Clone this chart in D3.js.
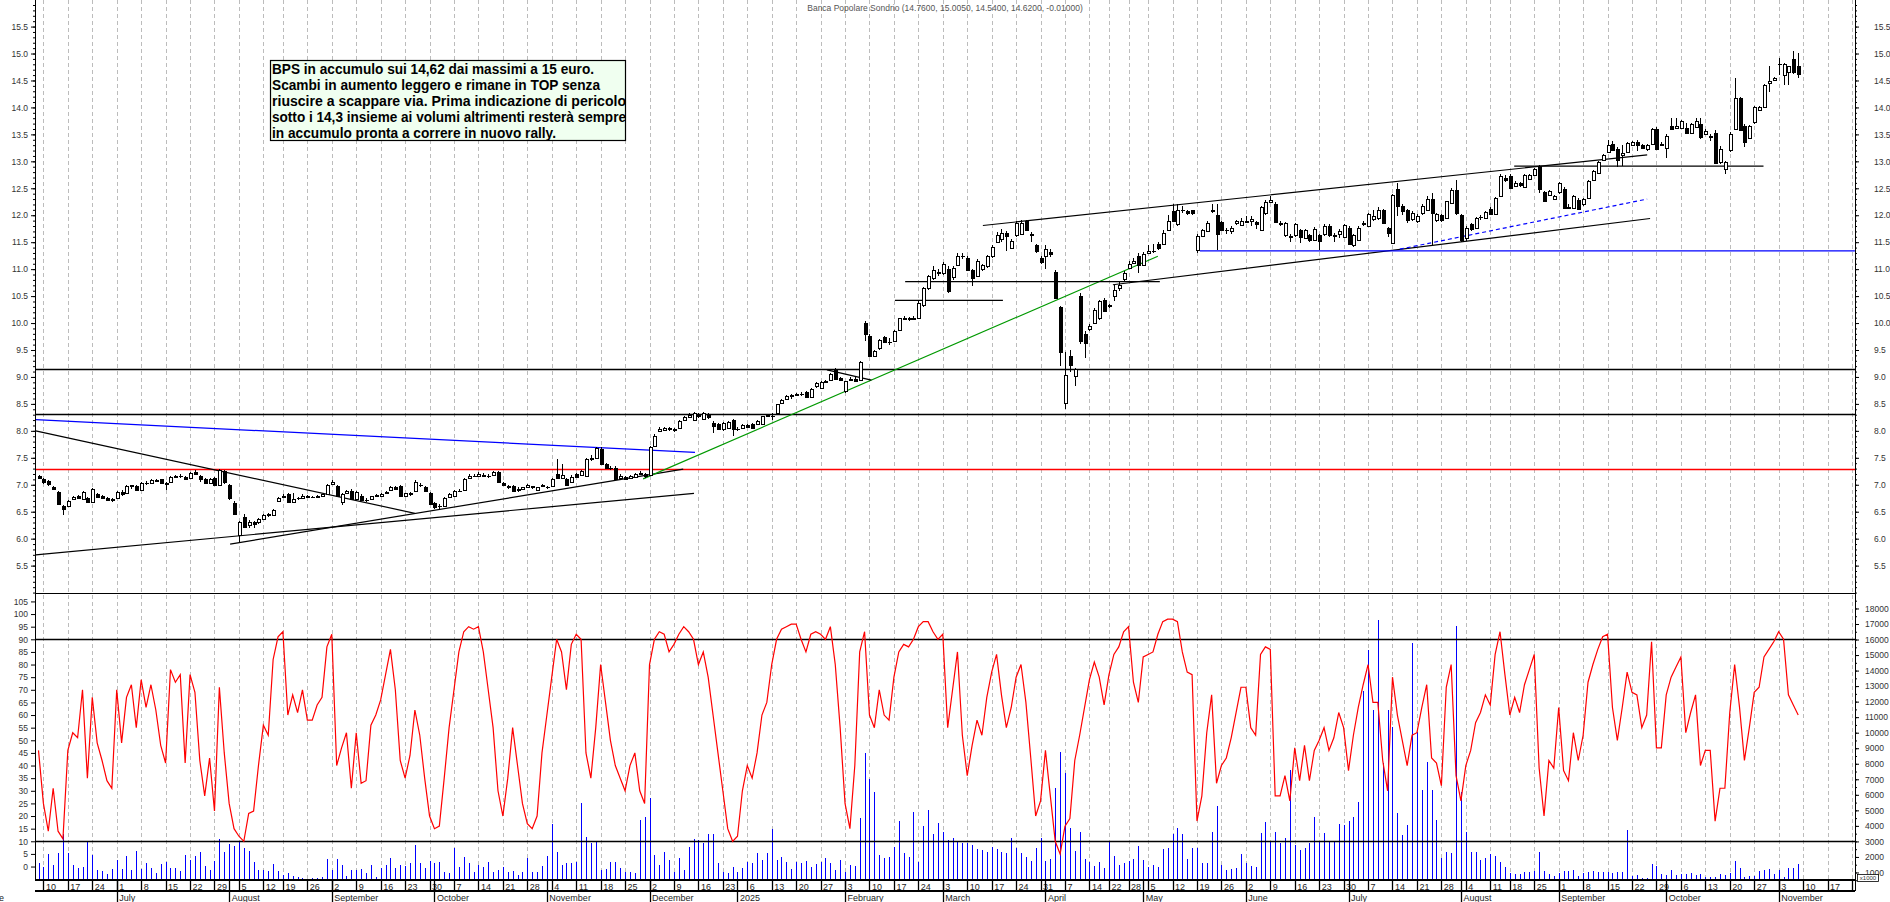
<!DOCTYPE html>
<html><head><meta charset="utf-8">
<script src="https://cdn.jsdelivr.net/npm/d3@7/dist/d3.min.js"></script>
<style>
html,body{margin:0;padding:0;background:#fff;}
svg{display:block;font-family:"Liberation Sans",Arial,Helvetica,sans-serif;}
</style></head><body>
<svg id="chart" width="1890" height="902"></svg>
<script>
// ---------------- DATA ----------------
const title = "Banca Popolare Sondrio (14.7600, 15.0050, 14.5400, 14.6200, -0.01000)";
const noteLines = [
 "BPS in accumulo sui 14,62 dai massimi a 15 euro.",
 "Scambi in aumento leggero e rimane in TOP senza",
 "riuscire a scappare via. Prima indicazione di pericolo",
 "sotto i 14,3 insieme ai volumi altrimenti resterà sempre",
 "in accumulo pronta a correre in nuovo rally."
];
const holidays = ["2024-08-15","2024-12-24","2024-12-25","2024-12-26","2024-12-31","2025-01-01","2025-04-18","2025-04-21","2025-05-01","2025-08-15"];
const firstDay = "2024-06-07", lastAxisDay = "2025-11-28";
const noWeekLabel = ["2024-12-30"];
const monthNames = ["January","February","March","April","May","June","July","August","September","October","November","December"];

const opens = [7.17,7.10,7.07,6.95,6.86,6.60,6.61,6.74,6.79,6.74,6.76,6.68,6.83,6.79,6.76,6.72,6.75,6.86,6.84,6.97,6.98,6.90,7.04,7.03,7.08,7.10,7.04,7.05,7.15,7.16,7.15,7.12,7.24,7.16,7.10,7.04,7.12,7.00,7.26,7.00,6.66,6.06,6.40,6.25,6.30,6.30,6.36,6.44,6.43,6.70,6.77,6.83,6.68,6.75,6.76,6.79,6.78,6.78,6.80,6.83,7.02,6.98,6.68,6.84,6.89,6.74,6.80,6.72,6.74,6.80,6.80,6.84,6.90,6.96,6.98,6.80,6.84,6.88,7.00,6.95,6.85,6.67,6.60,6.60,6.78,6.80,6.88,6.90,7.12,7.17,7.17,7.19,7.16,7.18,7.23,7.04,6.98,6.98,6.90,6.92,6.96,6.97,6.90,6.98,6.96,6.98,7.20,7.12,7.10,7.05,7.20,7.18,7.17,7.48,7.50,7.66,7.38,7.32,7.32,7.12,7.15,7.12,7.15,7.20,7.20,7.18,7.72,8.00,8.02,8.05,8.02,8.06,8.20,8.26,8.21,8.30,8.22,8.30,8.15,8.12,8.03,8.06,8.20,8.04,8.06,8.10,8.12,8.12,8.12,8.27,8.28,8.33,8.52,8.60,8.64,8.67,8.68,8.72,8.63,8.83,8.80,8.90,8.95,9.14,8.98,8.74,8.95,8.97,8.95,10.00,9.76,9.39,9.54,9.74,9.65,9.66,9.87,10.08,10.09,10.07,10.10,10.33,10.65,10.84,10.95,10.92,11.00,10.85,11.08,11.24,11.21,10.99,10.87,11.00,11.05,11.24,11.50,11.56,11.67,11.39,11.64,11.66,11.89,11.66,11.44,11.21,11.24,11.32,10.95,10.30,8.52,9.38,9.01,10.51,9.80,9.89,10.00,10.09,10.43,10.33,10.50,10.65,10.81,11.02,11.12,11.24,11.08,11.30,11.33,11.46,11.46,11.72,12.07,11.83,12.10,12.07,12.09,11.36,11.62,11.70,12.10,12.01,11.87,11.73,11.70,11.85,11.81,11.88,11.90,11.88,11.72,12.04,12.25,12.21,11.85,11.64,11.62,11.64,11.72,11.58,11.64,11.54,11.64,11.66,11.80,11.64,11.66,11.60,11.76,11.44,11.54,11.83,11.80,11.93,11.95,12.10,11.76,11.49,12.48,12.17,12.10,11.93,11.89,12.04,12.10,12.30,11.91,12.00,11.95,12.23,12.46,12.00,11.58,11.83,11.77,11.96,11.95,12.12,12.02,12.35,12.70,12.73,12.55,12.60,12.53,12.67,12.74,12.91,12.43,12.37,12.30,12.43,12.49,12.16,12.14,12.29,12.20,12.32,12.65,12.79,13.03,13.17,13.32,13.23,13.12,13.17,13.31,13.35,13.31,13.23,13.33,13.60,13.30,13.25,13.66,13.62,13.62,13.62,13.52,13.64,13.70,13.50,13.47,13.53,12.98,12.86,13.21,13.60,14.18,13.65,13.44,13.73,13.95,14.01,14.45,14.51,14.80,14.61,14.65,14.89,14.76];
const highs = [7.19,7.12,7.08,6.97,6.88,6.62,6.72,6.80,6.81,6.88,6.78,6.94,6.85,6.81,6.78,6.75,6.88,6.90,7.00,7.00,7.00,7.06,7.07,7.10,7.10,7.11,7.06,7.16,7.19,7.20,7.17,7.24,7.28,7.18,7.12,7.12,7.14,7.30,7.28,7.02,6.70,6.32,6.46,6.35,6.33,6.38,6.45,6.48,6.55,6.78,6.82,6.85,6.84,6.78,6.82,6.81,6.80,6.81,6.83,7.02,7.08,7.00,6.84,6.90,6.92,6.88,6.82,6.76,6.80,6.83,6.84,6.88,6.97,6.98,7.00,6.85,6.86,7.08,7.04,6.97,6.87,6.68,6.64,6.78,6.84,6.90,6.92,7.12,7.20,7.20,7.23,7.21,7.20,7.25,7.25,7.06,7.00,7.00,6.95,6.96,7.01,6.98,6.96,7.02,6.98,7.12,7.48,7.38,7.12,7.18,7.22,7.28,7.50,7.55,7.70,7.70,7.40,7.34,7.34,7.20,7.17,7.18,7.22,7.25,7.22,7.72,7.94,8.08,8.08,8.07,8.06,8.20,8.28,8.33,8.35,8.33,8.35,8.33,8.18,8.14,8.17,8.18,8.22,8.07,8.12,8.13,8.14,8.20,8.28,8.32,8.33,8.50,8.60,8.66,8.68,8.70,8.72,8.74,8.79,8.90,8.92,8.94,9.07,9.16,9.00,8.93,9.00,9.00,9.30,10.04,9.80,9.50,9.70,9.76,9.72,9.87,10.10,10.14,10.12,10.14,10.40,10.67,10.90,11.05,11.00,11.14,11.05,11.06,11.30,11.30,11.24,11.00,11.18,11.10,11.26,11.45,11.68,11.75,11.70,11.55,11.90,11.92,11.92,11.68,11.46,11.24,11.45,11.38,10.98,10.32,9.46,9.50,9.17,10.55,9.85,9.98,10.28,10.42,10.46,10.36,10.70,10.78,10.96,11.15,11.20,11.30,11.32,11.45,11.46,11.50,11.72,12.00,12.20,12.20,12.18,12.10,12.10,11.65,11.75,11.90,12.20,12.20,11.90,11.76,11.80,11.92,11.95,11.98,11.98,11.90,12.18,12.28,12.35,12.24,11.90,11.88,11.66,11.86,11.75,11.75,11.66,11.78,11.66,11.84,11.84,11.67,11.74,11.84,11.80,11.66,11.80,11.90,12.05,12.10,12.15,12.12,11.78,12.40,12.59,12.20,12.12,12.08,12.02,12.20,12.35,12.42,12.05,12.02,12.27,12.50,12.65,12.02,11.80,11.86,11.97,12.00,12.08,12.15,12.34,12.76,12.74,12.76,12.63,12.62,12.76,12.76,12.88,12.94,12.45,12.47,12.37,12.62,12.52,12.20,12.37,12.32,12.32,12.65,12.84,13.00,13.14,13.40,13.38,13.26,13.30,13.36,13.38,13.40,13.33,13.32,13.62,13.63,13.36,13.50,13.81,13.80,13.76,13.72,13.72,13.80,13.80,13.60,13.50,13.58,13.28,13.00,13.55,14.55,14.20,13.70,13.67,14.03,14.03,14.43,14.77,14.56,14.92,14.82,14.77,15.05,15.01];
const lows = [7.10,7.02,6.98,6.90,6.62,6.43,6.58,6.72,6.73,6.72,6.66,6.66,6.76,6.74,6.70,6.68,6.74,6.80,6.83,6.93,6.88,6.88,7.00,7.01,7.05,7.03,6.90,7.03,7.12,7.13,7.08,7.10,7.18,7.06,7.02,7.02,6.97,6.98,7.02,6.72,6.44,5.93,6.20,6.20,6.20,6.28,6.34,6.40,6.42,6.68,6.75,6.66,6.66,6.72,6.74,6.75,6.76,6.76,6.78,6.82,7.00,6.78,6.62,6.82,6.72,6.72,6.70,6.68,6.72,6.78,6.78,6.82,6.88,6.90,6.78,6.78,6.80,6.86,6.96,6.86,6.63,6.55,6.54,6.58,6.76,6.78,6.86,6.88,7.10,7.14,7.15,7.14,7.13,7.16,7.03,6.98,6.92,6.86,6.87,6.90,6.94,6.93,6.88,6.96,6.92,6.96,7.10,7.10,6.98,7.04,7.12,7.16,7.15,7.45,7.48,7.36,7.30,7.28,7.08,7.10,7.08,7.10,7.14,7.18,7.12,7.16,7.70,7.98,8.00,8.00,7.98,8.04,8.18,8.24,8.19,8.24,8.20,8.22,7.96,8.02,8.00,8.04,7.90,8.00,8.04,8.05,8.04,8.10,8.10,8.25,8.20,8.30,8.50,8.58,8.60,8.64,8.65,8.62,8.61,8.80,8.78,8.88,8.93,8.95,8.93,8.71,8.93,8.90,8.93,9.66,9.37,9.37,9.50,9.63,9.60,9.64,9.85,10.05,10.03,10.05,10.08,10.30,10.62,10.80,10.88,10.90,10.55,10.80,11.05,11.18,10.96,10.68,10.85,10.97,11.03,11.20,11.48,11.50,11.33,11.37,11.60,11.64,11.70,11.50,11.30,11.10,11.00,11.22,10.44,9.20,8.41,9.10,8.83,9.62,9.35,9.85,9.98,10.05,10.20,10.28,10.40,10.60,10.78,11.00,11.10,10.92,11.05,11.28,11.30,11.35,11.44,11.70,11.87,11.80,12.05,12.00,12.00,11.30,11.60,11.68,12.05,11.36,11.70,11.65,11.66,11.82,11.80,11.85,11.80,11.75,11.70,12.00,12.22,11.85,11.80,11.60,11.50,11.60,11.48,11.56,11.50,11.52,11.36,11.62,11.60,11.50,11.58,11.58,11.44,11.42,11.52,11.80,11.78,11.90,11.92,11.84,11.60,11.46,11.99,12.00,11.85,11.90,11.86,12.00,12.08,11.45,11.88,11.88,11.93,12.20,12.00,11.50,11.52,11.70,11.75,11.92,11.93,12.00,12.00,12.33,12.62,12.48,12.52,12.52,12.50,12.65,12.72,12.42,12.24,12.35,12.28,12.40,12.12,12.12,12.12,12.09,12.18,12.30,12.63,12.77,13.00,13.15,13.19,12.90,12.92,13.15,13.30,13.20,13.22,13.20,13.30,13.21,13.28,13.06,13.58,13.60,13.60,13.50,13.50,13.62,13.42,13.48,13.38,12.95,12.95,12.77,13.18,13.58,13.58,13.27,13.42,13.70,13.93,13.99,14.28,14.50,14.61,14.42,14.42,14.62,14.54];
const closes = [7.12,7.05,7.01,6.92,6.64,6.55,6.70,6.78,6.75,6.86,6.68,6.92,6.78,6.76,6.71,6.73,6.86,6.82,6.98,6.99,6.90,7.04,7.03,7.08,7.07,7.04,7.02,7.14,7.16,7.17,7.10,7.22,7.20,7.10,7.04,7.10,6.99,7.28,7.05,6.75,6.46,6.30,6.22,6.30,6.28,6.36,6.43,6.45,6.54,6.76,6.80,6.68,6.74,6.76,6.80,6.78,6.78,6.80,6.82,7.00,7.05,6.80,6.82,6.88,6.74,6.86,6.72,6.72,6.79,6.81,6.82,6.87,6.95,6.93,6.80,6.84,6.83,7.05,6.99,6.88,6.65,6.58,6.60,6.76,6.82,6.88,6.89,7.10,7.17,7.16,7.20,7.17,7.17,7.23,7.05,7.00,6.95,6.88,6.92,6.95,6.99,6.95,6.95,7.00,6.95,7.10,7.12,7.18,7.00,7.15,7.14,7.25,7.48,7.50,7.69,7.38,7.32,7.31,7.10,7.17,7.10,7.16,7.20,7.22,7.16,7.70,7.90,8.03,8.05,8.03,8.04,8.18,8.25,8.30,8.33,8.27,8.33,8.25,8.09,8.04,8.15,8.16,8.03,8.04,8.10,8.08,8.06,8.18,8.27,8.29,8.27,8.49,8.58,8.64,8.67,8.69,8.69,8.63,8.78,8.89,8.90,8.92,9.06,8.97,8.95,8.92,8.97,8.92,9.28,9.79,9.39,9.48,9.68,9.65,9.65,9.85,10.09,10.09,10.07,10.10,10.38,10.65,10.87,10.98,10.92,11.09,10.59,11.03,11.25,11.24,10.99,10.84,11.16,11.08,11.24,11.42,11.64,11.67,11.61,11.52,11.86,11.86,11.73,11.63,11.33,11.13,11.37,11.29,10.47,9.46,9.04,9.23,9.14,9.66,9.63,9.95,10.25,10.40,10.22,10.31,10.62,10.71,10.93,11.10,11.15,11.08,11.29,11.33,11.34,11.39,11.67,11.89,11.89,12.10,12.10,12.05,12.04,11.62,11.72,11.86,12.08,11.66,11.73,11.72,11.76,11.89,11.90,11.90,11.93,11.83,12.15,12.24,12.29,11.87,11.83,11.86,11.60,11.83,11.60,11.72,11.54,11.75,11.52,11.80,11.64,11.62,11.70,11.81,11.46,11.64,11.76,11.86,12.02,11.99,12.10,11.86,11.67,12.37,12.17,12.07,11.92,12.04,11.99,12.17,12.30,12.04,12.02,11.92,12.26,12.47,12.04,11.54,11.77,11.75,11.95,11.97,12.06,12.02,12.32,12.73,12.65,12.51,12.59,12.57,12.74,12.74,12.86,12.48,12.26,12.45,12.35,12.59,12.14,12.14,12.35,12.11,12.30,12.63,12.82,12.98,13.12,13.31,13.21,13.03,13.15,13.34,13.35,13.30,13.25,13.30,13.60,13.23,13.32,13.47,13.60,13.65,13.74,13.52,13.70,13.74,13.45,13.56,13.45,12.97,13.23,12.98,13.50,14.18,13.59,13.35,13.65,14.01,14.01,14.41,14.49,14.55,14.81,14.80,14.77,14.65,14.62];
const stoch = [46,25,14,31,14,11,46,53,51,70,35,67,49,42,34,31,70,49,67,72,55,74,63,72,62,48,41,78,73,76,41,76,69,42,28,43,22,71,45,25,15,12,10,21,22,40,56,52,82,91,93,60,68,61,70,58,58,64,67,87,92,40,47,53,31,53,33,34,56,60,66,76,86,70,42,
 35,44,62,52,35,20,15,16,35,55,70,85,93,95,94,95,85,70,55,30,20,35,55,40,25,17,15,20,45,60,75,90,85,70,88,92,90,45,35,55,80,65,50,40,35,30,40,45,30,25,80,90,93,92,85,88,92,95,93,90,80,85,75,60,45,30,15,10,12,30,40,35,45,60,65,80,90,94,95,96,96,90,85,92,93,92,90,95,80,55,25,15,40,85,93,60,55,70,60,58,75,85,88,87,90,95,97,97,93,90,92,55,70,85,
 52,36,48,58,52,67,77,84,68,55,63,75,80,65,43,20,26,46,28,10,5,16,19,42,52,63,74,81,75,64,76,84,87,93,95,73,65,83,84,85,92,97,98,98,97,85,77,76,18,28,53,68,33,40,43,51,61,71,71,55,52,84,87,86,28,28,36,26,47,34,48,34,46,50,55,46,51,61,55,38,52,63,72,80,65,65,42,30,75,60,50,40,52,53,63,72,43,41,32,71,80,36,26,40,46,57,61,68,64,84,93,76,60,67,61,72,78,84,39,20,42,39,63,38,34,53,42,52,73,80,86,91,92,63,50,63,77,69,68,55,60,89,47,47,68,75,79,83,53,61,68,40,46,46,18,31,31,61,80,63,42,55,69,71,83,86,89,93,90,68,64,60];
const volume = [1631,1374,2190,1481,2232,3477,2232,1481,1309,1374,2983,2125,1159,1095,902,1202,1803,1223,2061,1159,2383,1223,1588,1288,988,1545,1696,1288,1288,1095,2125,1825,2061,2318,1416,1159,1760,3177,2340,2834,2705,2983,2597,2383,1696,1159,1159,1095,1524,1095,838,945,795,730,623,559,666,623,688,1889,1159,1846,1481,795,1159,1159,1202,945,1481,688,1266,1481,1910,1266,1500,1400,
 1589,2769,1589,1266,1739,1631,1696,1052,945,2554,1374,2018,1589,1052,1481,1331,1696,1052,1159,1374,1052,1116,837,1052,1910,1052,1052,1417,2060,4145,2340,1481,1589,1589,1696,5446,3305,2876,3048,1159,1202,1696,1696,1266,1052,1052,988,4400,4600,5770,2125,1481,2340,1803,1052,1910,1159,2662,3134,3091,2876,3477,3477,1589,1052,945,1331,1052,1266,1696,1589,2232,1803,2232,3800,1803,2018,1696,1202,1696,1589,1760,1374,1546,1696,1910,1589,1159,1803,1052,1481,1417,4500,8700,7000,6200,2125,1910,2018,2662,4300,2232,1975,4900,1696,4000,5000,3500,4200,3600,3100,3200,3000,2900,
 2917,2768,2510,2446,2339,2661,2510,2339,2232,3198,2553,2275,2017,1738,2553,3198,1738,1867,6461,8779,7384,3841,2382,3627,1867,1695,1438,1695,1309,2982,2082,1481,1588,1738,1867,2725,1803,1374,1481,1374,2510,2596,3455,3841,3455,1867,2553,2553,1588,1588,3584,5280,1481,1159,1223,1266,2167,1631,1438,1374,3562,4271,2939,3584,2875,3240,7577,2768,2446,2596,2875,4550,2982,3562,2982,2982,4099,4056,4314,4550,5516,12707,15325,11462,17257,8049,11462,10389,4808,3412,4056,15754,10067,6310,8135,6310,4378,1910,2339,2275,16871,6203,3627,2339,2296,1781,1910,2167,2060,1695,1374,944,901,901,1051,1008,1094,2339,1094,880,773,987,1094,1094,1159,773,966,1051,1116,1051,1051,1008,944,1008,1051,3734,773,816,644,622,1545,1438,880,816,1159,816,880,901,987,816,923,709,709,709,880,837,944,1760,1309,709,752,752,1094,1159,1202,923,1159,700,1309,1266,1567];

const priceMajor = d3.range(5.5, 15.51, 0.5);
const priceMinor = d3.range(5.0, 15.95, 0.1);
const stochTicks = d3.range(0, 106, 5);
const volMajor = d3.range(1000, 18001, 1000);
const volMinor = d3.range(500, 18501, 500);

// levels / trendlines in data space: [dayIndexFrom, priceFrom, dayIndexTo, priceTo]
const levelsFull = [{p:9.14,c:"#000"},{p:8.31,c:"#000"},{p:7.29,c:"#ff0000"}];
const trendLines = [
 {a:[-0.58,8.00,77.0,6.47], c:"#000"},
 {a:[-0.58,5.70,134.1,6.84], c:"#000"},
 {a:[39.2,5.90,131.9,7.29], c:"#000"},
 {a:[-0.58,8.21,134.3,7.60], c:"#0000ff"},
 {a:[123.7,7.11,229.0,11.24], c:"#009900"},
 {a:[161.3,9.13,170.4,8.94], c:"#000"},
 {a:[175.2,10.42,197.3,10.42], c:"#000"},
 {a:[177.3,10.77,229.4,10.77], c:"#000"},
 {a:[193.2,11.81,329.1,13.12], c:"#000"},
 {a:[219.8,10.71,329.7,11.94], c:"#000"},
 {a:[237.6,11.34,371.6,11.34], c:"#0000ff"},
 {a:[278.5,11.37,329.1,12.30], c:"#0000ff", dash:"4,3"},
 {a:[301.9,12.91,352.9,12.91], c:"#000"}
];

// ---------------- LAYOUT ----------------
const L = 35, R = 1855, TOP_B = 593.5, LOW_T = 594, LOW_B = 880, ROW = 891, BOT = 902;

function tradingDays(a, b) {
  const out = []; const d = new Date(a + "T12:00:00Z"); const e = new Date(b + "T12:00:00Z");
  while (d <= e) {
    const wd = d.getUTCDay(), s = d.toISOString().slice(0, 10);
    if (wd !== 0 && wd !== 6 && !holidays.includes(s)) out.push(s);
    d.setUTCDate(d.getUTCDate() + 1);
  }
  return out;
}
const days = tradingDays(firstDay, lastAxisDay);
const parse = s => new Date(s + "T12:00:00Z");

const x = d3.scaleLinear().domain([-0.718, 371.62]).range([L, R]);
const yP = d3.scaleLinear().domain([4.992, 15.993]).range([593, 0]);
const yS = d3.scaleLinear().domain([-5.33, 107.94]).range([LOW_B, LOW_T]);
const yV = d3.scaleLinear().domain([515, 18931]).range([LOW_B, LOW_T]);

const svg = d3.select("#chart");
const defs = svg.append("defs");
defs.append("clipPath").attr("id","clipTop").append("rect").attr("x",L).attr("y",0).attr("width",R-L).attr("height",TOP_B);
defs.append("clipPath").attr("id","clipLow").append("rect").attr("x",L).attr("y",LOW_T).attr("width",R-L).attr("height",LOW_B-LOW_T);

// week / month starts
const weekStarts = [], monthStarts = [];
days.forEach((s, k) => {
  if (k === 0) return;
  const d = parse(s), p = parse(days[k-1]);
  if (d.getUTCDay() < p.getUTCDay() || (d - p) / 86400000 >= 7) { if (!noWeekLabel.includes(s)) weekStarts.push(k); }
  if (d.getUTCMonth() !== p.getUTCMonth()) monthStarts.push(k);
});

// gridlines
svg.append("g").selectAll("line").data(weekStarts).join("line")
  .attr("x1", k => Math.round(x(k)) + 0.5).attr("x2", k => Math.round(x(k)) + 0.5)
  .attr("y1", 0).attr("y2", LOW_B)
  .attr("stroke", "#bcbcbc").attr("stroke-width", 1).attr("stroke-dasharray", "4,3");

// title
svg.append("text").attr("x", (L + R) / 2).attr("y", 11).attr("text-anchor", "middle")
  .attr("font-size", 8.5).attr("fill", "#555").text(title);

// ---------- top panel ----------
const topG = svg.append("g").attr("clip-path", "url(#clipTop)");
levelsFull.forEach(l => topG.append("line").attr("x1", L).attr("x2", R)
  .attr("y1", Math.round(yP(l.p)) + 0.5).attr("y2", Math.round(yP(l.p)) + 0.5)
  .attr("stroke", l.c).attr("stroke-width", 1.3));
trendLines.forEach(t => topG.append("line")
  .attr("x1", x(t.a[0])).attr("y1", yP(t.a[1])).attr("x2", x(t.a[2])).attr("y2", yP(t.a[3]))
  .attr("stroke", t.c).attr("stroke-width", 1.2).attr("stroke-dasharray", t.dash || null));

const n = Math.min(opens.length, highs.length, lows.length, closes.length);
const candles = d3.range(n).map(k => ({k, o: opens[k], h: highs[k], l: lows[k], c: closes[k]}));
const cg = topG.append("g").attr("shape-rendering", "crispEdges");
cg.selectAll("line.w").data(candles).join("line").attr("class","w")
  .attr("x1", d => Math.round(x(d.k)) + 0.5).attr("x2", d => Math.round(x(d.k)) + 0.5)
  .attr("y1", d => yP(d.h)).attr("y2", d => yP(d.l)).attr("stroke", "#000").attr("stroke-width", 1);
cg.selectAll("rect").data(candles).join("rect")
  .attr("x", d => Math.round(x(d.k)) - 1)
  .attr("y", d => Math.round(yP(Math.max(d.o, d.c))) + 0.5)
  .attr("width", 3)
  .attr("height", d => Math.max(0.01, Math.round(yP(Math.min(d.o, d.c))) - Math.round(yP(Math.max(d.o, d.c)))))
  .attr("fill", d => d.c >= d.o ? "#fff" : "#000")
  .attr("stroke", "#000").attr("stroke-width", 1);

// note box
const note = svg.append("g");
note.append("rect").attr("x", 270.5).attr("y", 60.5).attr("width", 355).attr("height", 80)
  .attr("fill", "#f0fff0").attr("stroke", "#000").attr("stroke-width", 1.2);
const noteW = [322, 328, 354, 354, 284];
noteLines.forEach((t, i) => note.append("text").attr("x", 272).attr("y", 73.5 + i * 16.1)
  .attr("font-size", 14).attr("font-weight", "bold").attr("fill", "#000")
  .attr("textLength", noteW[i]).attr("lengthAdjust", "spacingAndGlyphs").text(t));

// ---------- lower panel ----------
const lowG = svg.append("g").attr("clip-path", "url(#clipLow)");
lowG.append("g").selectAll("line").data(volume.slice(0, n)).join("line")
  .attr("x1", (v, k) => Math.round(x(k)) + 0.5).attr("x2", (v, k) => Math.round(x(k)) + 0.5)
  .attr("y1", LOW_B).attr("y2", v => yV(v))
  .attr("stroke", "#0000ff").attr("stroke-width", 1).attr("shape-rendering", "crispEdges");
[90, 10].forEach(v => lowG.append("line").attr("x1", L).attr("x2", R)
  .attr("y1", Math.round(yS(v)) + 0.5).attr("y2", Math.round(yS(v)) + 0.5)
  .attr("stroke", "#000").attr("stroke-width", 1.3));
lowG.append("path").datum(stoch.slice(0, n))
  .attr("d", d3.line().x((v, k) => x(k)).y(v => yS(v)))
  .attr("fill", "none").attr("stroke", "#ff0000").attr("stroke-width", 1.2);

// frame lines
const frame = svg.append("g").attr("stroke", "#000").attr("shape-rendering", "crispEdges");
frame.append("line").attr("x1", L).attr("x2", R).attr("y1", 593.5).attr("y2", 593.5).attr("stroke-width", 1.5);
frame.append("line").attr("x1", L).attr("x2", R).attr("y1", LOW_B).attr("y2", LOW_B).attr("stroke-width", 1.5);
frame.append("line").attr("x1", L).attr("x2", R).attr("y1", ROW).attr("y2", ROW).attr("stroke-width", 1.5);
frame.append("line").attr("x1", L + 0.5).attr("x2", L + 0.5).attr("y1", 0).attr("y2", LOW_B).attr("stroke-width", 1.5);
frame.append("line").attr("x1", R + 0.5).attr("x2", R + 0.5).attr("y1", 0).attr("y2", ROW).attr("stroke-width", 1.5);

// ---------- axes ----------
function styleAxis(g, fs) {
  g.select(".domain").remove();
  g.selectAll("line").attr("stroke", "#000");
  g.selectAll("text").attr("font-size", fs).attr("fill", "#333").attr("font-family", "Liberation Sans, Arial, sans-serif");
}
const fmt1 = d3.format(".1f");
svg.append("g").attr("transform", `translate(${L},0)`).call(d3.axisLeft(yP).tickValues(priceMinor).tickSize(2).tickFormat("")).call(g => styleAxis(g, 8));
svg.append("g").attr("transform", `translate(${L},0)`).call(d3.axisLeft(yP).tickValues(priceMajor).tickSize(4).tickPadding(3).tickFormat(fmt1)).call(g => styleAxis(g, 8.5));
svg.append("g").attr("transform", `translate(${R},0)`).call(d3.axisRight(yP).tickValues(priceMinor).tickSize(2).tickFormat("")).call(g => styleAxis(g, 8));
svg.append("g").attr("transform", `translate(${R},0)`).call(d3.axisRight(yP).tickValues(priceMajor).tickSize(4).tickPadding(15).tickFormat(fmt1)).call(g => styleAxis(g, 8.5));
svg.append("g").attr("transform", `translate(${L},0)`).call(d3.axisLeft(yS).tickValues(stochTicks).tickSize(4).tickPadding(3).tickFormat(d3.format("d"))).call(g => styleAxis(g, 8.5));
svg.append("g").attr("transform", `translate(${R},0)`).call(d3.axisRight(yV).tickValues(volMinor).tickSize(2).tickFormat("")).call(g => styleAxis(g, 8));
svg.append("g").attr("transform", `translate(${R},0)`).call(d3.axisRight(yV).tickValues(volMajor).tickSize(4).tickPadding(6).tickFormat(d3.format("d"))).call(g => styleAxis(g, 8.5));
svg.append("rect").attr("x", 1857.5).attr("y", 874.5).attr("width", 21).attr("height", 7).attr("fill", "#fff").attr("stroke", "#000").attr("stroke-width", 0.8);
svg.append("text").attr("x", 1868).attr("y", 880).attr("text-anchor", "middle").attr("font-size", 6).attr("fill", "#333").text("x1000");

// date axis
const dg = svg.append("g");
dg.selectAll("line.wk").data(weekStarts).join("line").attr("class", "wk")
  .attr("x1", k => Math.round(x(k)) + 0.5).attr("x2", k => Math.round(x(k)) + 0.5)
  .attr("y1", LOW_B).attr("y2", ROW).attr("stroke", "#000").attr("stroke-width", 1.3);
dg.selectAll("text.wk").data(weekStarts.filter(k => x(k) < R - 8)).join("text").attr("class", "wk")
  .attr("x", k => x(k) + 2.5).attr("y", 889.5).attr("font-size", 9).attr("fill", "#222")
  .text(k => parse(days[k]).getUTCDate());
dg.selectAll("line.mo").data(monthStarts).join("line").attr("class", "mo")
  .attr("x1", k => Math.round(x(k)) + 0.5).attr("x2", k => Math.round(x(k)) + 0.5)
  .attr("y1", LOW_B).attr("y2", BOT).attr("stroke", "#000").attr("stroke-width", 1.3);
dg.selectAll("text.mo").data(monthStarts).join("text").attr("class", "mo")
  .attr("x", k => x(k) + 2.5).attr("y", 900.5).attr("font-size", 9).attr("fill", "#222")
  .text(k => { const d = parse(days[k]); return d.getUTCMonth() === 0 ? String(d.getUTCFullYear()) : monthNames[d.getUTCMonth()]; });
dg.append("text").attr("x", 4).attr("y", 900.5).attr("text-anchor", "end").attr("font-size", 9).attr("fill", "#222")
  .text(monthNames[parse(firstDay).getUTCMonth()]);
</script>
</body></html>
